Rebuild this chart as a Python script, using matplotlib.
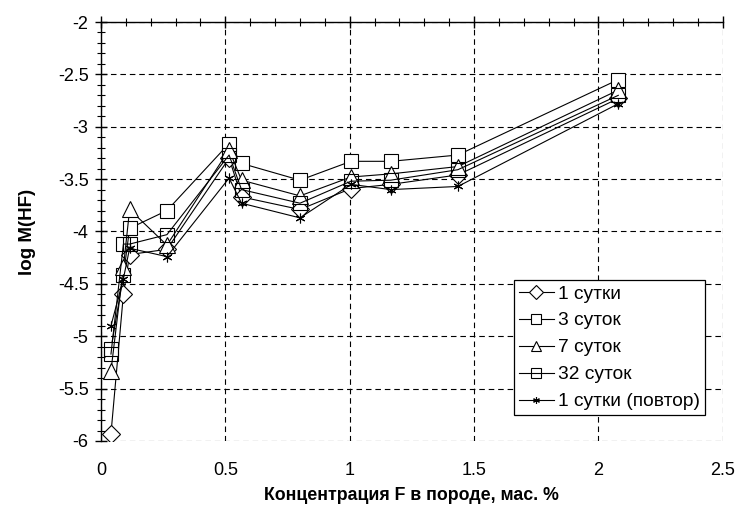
import matplotlib
matplotlib.use("Agg")
import matplotlib.pyplot as plt
from matplotlib.ticker import MultipleLocator

plt.rcParams["font.family"] = ["Liberation Sans", "DejaVu Sans"]

# concentration of F, wt. %
conc = [0.04, 0.09, 0.115, 0.265, 0.515, 0.565, 0.80, 1.005, 1.165, 1.435, 2.08]

# log M(HF) per exposure time
day1 = [-5.93, -4.60, -4.22, -4.17, -3.30, -3.67, -3.79, -3.59, -3.55, -3.46, -2.73]
day3 = [-5.12, -4.42, -3.97, -3.80, -3.16, -3.35, -3.51, -3.33, -3.33, -3.27, -2.55]
day7 = [-5.33, -4.34, -3.79, -4.13, -3.22, -3.51, -3.66, -3.48, -3.45, -3.38, -2.65]
day32 = [-5.17, -4.12, -4.12, -4.03, -3.27, -3.60, -3.73, -3.52, -3.51, -3.41, -2.70]
day1_rep = [-4.90, -4.45, -4.16, -4.24, -3.49, -3.73, -3.87, -3.55, -3.60, -3.57, -2.78]

labels = ["1 сутки", "3 суток", "7 суток", "32 суток", "1 сутки (повтор)"]

fig = plt.figure(figsize=(7.39, 5.07), dpi=100)
ax = fig.add_axes([0.1367, 0.1302, 0.8413, 0.8264])

line_kw = dict(color="black", lw=0.8, mec="black", mew=0.8)
ax.plot(conc, day1, marker="D", ms=9.5, mfc="white", label=labels[0], **line_kw)
ax.plot(conc, day3, marker="s", ms=10, mfc="white", label=labels[1], **line_kw)
ax.plot(conc, day7, marker="^", ms=11, mfc="white", label=labels[2], **line_kw)
ax.plot(conc, day32, marker="s", ms=10, mfc="none", label=labels[3], **line_kw)
ax.plot(conc, day1_rep, marker=(6, 2, 0), ms=7, mfc="none", label=labels[4], **line_kw)

ax.set_xlim(0, 2.5)
ax.set_ylim(-6, -2)
ax.xaxis.set_major_locator(MultipleLocator(0.5))
ax.xaxis.set_minor_locator(MultipleLocator(0.1))
ax.yaxis.set_major_locator(MultipleLocator(0.5))
ax.yaxis.set_minor_locator(MultipleLocator(0.1))
ax.set_xticks([0, 0.5, 1, 1.5, 2, 2.5])
ax.set_xticklabels(["0", "0.5", "1", "1.5", "2", "2.5"])
ax.set_yticks([-6, -5.5, -5, -4.5, -4, -3.5, -3, -2.5, -2])
ax.set_yticklabels(["-6", "-5.5", "-5", "-4.5", "-4", "-3.5", "-3", "-2.5", "-2"])

ax.grid(True, which="major", color="black", lw=0.8, linestyle=(0, (5, 3.5)))
ax.set_axisbelow(True)

ax.spines["bottom"].set_visible(False)
ax.spines["right"].set_visible(False)
ax.spines["left"].set_linewidth(1.0)
ax.spines["top"].set_linewidth(1.0)

ax.tick_params(axis="x", which="both", top=True, bottom=False, labeltop=False,
               labelbottom=True, direction="inout")
ax.tick_params(axis="y", which="both", left=True, right=False, direction="inout")
ax.tick_params(which="major", length=8, width=1.0, labelsize=13)
ax.tick_params(which="minor", length=6, width=0.8)
ax.tick_params(axis="x", which="major", pad=11)
ax.tick_params(axis="y", which="major", pad=5)

ax.set_xlabel("Концентрация F в породе, мас. %", fontsize=12.8, fontweight="bold", labelpad=6)
ax.set_ylabel("log M(HF)", fontsize=13.5, fontweight="bold", labelpad=16)

leg = ax.legend(loc="lower right", bbox_to_anchor=(0.971, 0.062), fontsize=13.75,
                frameon=True, fancybox=False, framealpha=1, edgecolor="black",
                handlelength=1.85, handletextpad=0.2, labelspacing=0.5,
                borderpad=0.25, borderaxespad=0, markerscale=0.7)
leg.get_frame().set_linewidth(0.9)

fig.savefig("out.png", dpi=100)
